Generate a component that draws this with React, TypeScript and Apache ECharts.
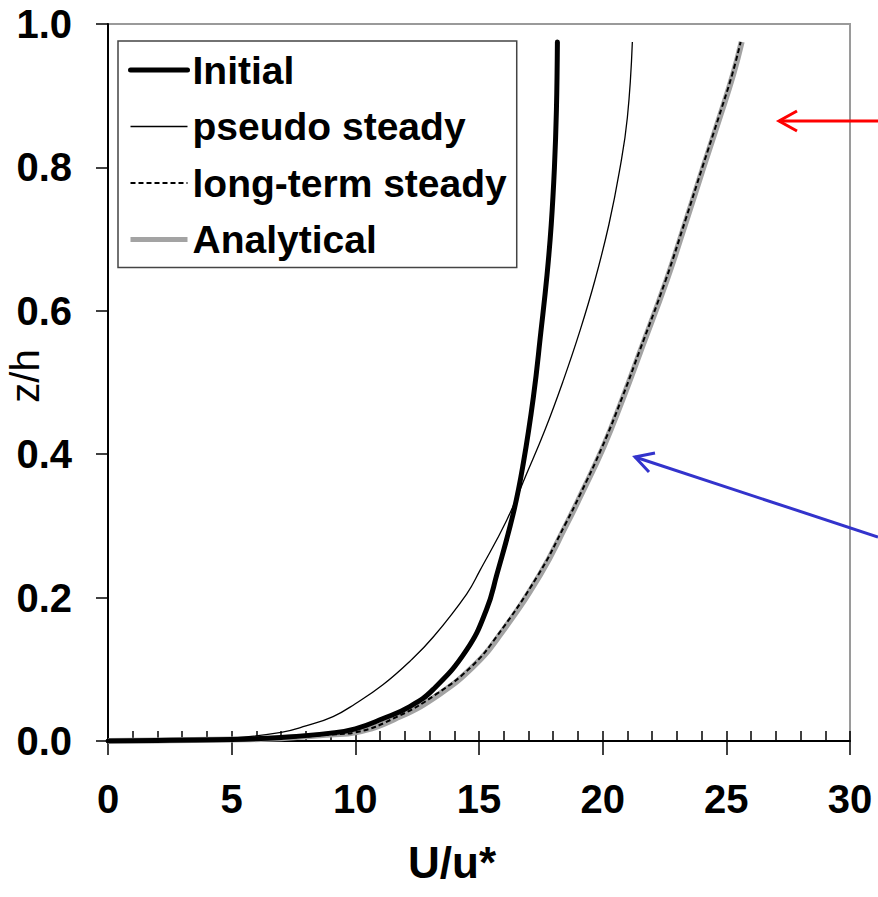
import React, { useEffect, useRef } from "react";
import * as echarts from "echarts";

// Values (U/u* on x, z/h on y)
const initialU = [0, 2.5, 5, 7, 9, 10, 11.1, 12.2, 13.15, 14.5, 15.3, 15.72, 16.39, 16.79, 17.2, 17.5, 17.75, 17.92, 18.05, 18.13, 18.17];
const initialZ = [0, 0.001, 0.002, 0.005, 0.011, 0.017, 0.031, 0.048, 0.072, 0.127, 0.183, 0.232, 0.318, 0.387, 0.48, 0.57, 0.65, 0.72, 0.8, 0.88, 0.975];

const pseudoU = [0, 2.5, 5, 7, 8, 9.1, 10, 11.1, 12.2, 13.15, 14.5, 15.04, 16.12, 16.93, 17.67, 18.41, 19.09, 19.69, 20.25, 20.68, 21.0, 21.2];
const pseudoZ = [0, 0.001, 0.004, 0.012, 0.021, 0.034, 0.052, 0.078, 0.111, 0.145, 0.205, 0.238, 0.308, 0.373, 0.434, 0.503, 0.573, 0.643, 0.72, 0.795, 0.87, 0.975];

const longTermU = [0, 2.5, 5, 7, 9, 10, 11.7, 13.3, 14.7, 15.7, 17.4, 18.5, 19.05, 19.98, 20.8, 21.47, 22.55, 23.36, 24.03, 24.71, 25.24, 25.58];
const longTermZ = [0, 0.001, 0.002, 0.004, 0.009, 0.012, 0.034, 0.066, 0.104, 0.145, 0.232, 0.303, 0.341, 0.41, 0.48, 0.542, 0.643, 0.728, 0.8, 0.872, 0.93, 0.975];

const analyticalU = [0, 2.5, 5, 7, 9, 10, 11.8, 13.42, 14.77, 15.78, 17.47, 18.55, 19.09, 20.03, 20.84, 21.51, 22.59, 23.4, 24.07, 24.75, 25.28, 25.62];
const analyticalZ = [0, 0.001, 0.002, 0.004, 0.009, 0.012, 0.034, 0.066, 0.104, 0.145, 0.232, 0.303, 0.341, 0.41, 0.48, 0.542, 0.643, 0.728, 0.8, 0.872, 0.93, 0.975];

const seriesNames = ["Initial", "pseudo steady", "long-term steady", "Analytical"];
const xTitle = "U/u*";
const yTitle = "z/h";

const zip = (xs: number[], ys: number[]) => xs.map((x, i) => [x, ys[i]]);

const FONT = "'Liberation Sans', Arial, sans-serif";

const STYLE_INITIAL = { color: "#000", width: 5, cap: "round" };
const STYLE_PSEUDO = { color: "#000", width: 1.3 };
const STYLE_LONG = { color: "#000", width: 2, type: [5, 3] };
const STYLE_ANALYTICAL = { color: "#a3a3a3", width: 6 };

export default function App() {
  const ref = useRef<HTMLDivElement>(null);
  useEffect(() => {
    if (!ref.current) return;
    const chart = echarts.init(ref.current, undefined, { renderer: "svg" });
    const gridRect = { left: 108, top: 24, right: 28, bottom: 156 };
    const lineSeries = (name: string, xs: number[], ys: number[], lineStyle: any, z: number) => ({
      name,
      type: "line",
      data: zip(xs, ys),
      showSymbol: false,
      symbol: "none",
      smooth: 0.45,
      lineStyle,
      itemStyle: { color: lineStyle.color },
      z,
    });
    chart.setOption({
      animation: false,
      backgroundColor: "#ffffff",
      textStyle: { fontFamily: FONT },
      grid: [
        { ...gridRect, show: true, borderColor: "#9a9a9a", borderWidth: 2, backgroundColor: "transparent" },
        { ...gridRect, show: false },
      ],
      xAxis: [
        {
          type: "value",
          gridIndex: 0,
          min: 0,
          max: 30,
          interval: 5,
          axisLine: { show: true, onZero: false, lineStyle: { color: "#000", width: 2 } },
          axisTick: { show: true, inside: true, length: 10, lineStyle: { color: "#000", width: 1.5 } },
          minorTick: { show: true, splitNumber: 5, length: 10, lineStyle: { color: "#000", width: 1.5 } },
          splitLine: { show: false },
          axisLabel: { fontSize: 40, fontWeight: "bold", color: "#000", margin: 38, fontFamily: FONT },
        },
        {
          type: "value",
          gridIndex: 1,
          min: 0,
          max: 30,
          interval: 5,
          axisLine: { show: false },
          axisTick: { show: true, inside: false, length: 14, lineStyle: { color: "#000", width: 1.5 } },
          splitLine: { show: false },
          axisLabel: { show: false },
        },
      ],
      yAxis: [
        {
          type: "value",
          gridIndex: 0,
          min: 0,
          max: 1,
          interval: 0.2,
          axisLine: { show: true, onZero: false, lineStyle: { color: "#000", width: 2 } },
          axisTick: { show: true, inside: false, length: 12, lineStyle: { color: "#000", width: 1.5 } },
          splitLine: { show: false },
          axisLabel: {
            fontSize: 40,
            fontWeight: "bold",
            color: "#000",
            margin: 36,
            fontFamily: FONT,
            formatter: (v: number) => v.toFixed(1),
          },
        },
        { type: "value", gridIndex: 1, min: 0, max: 1, show: false },
      ],
      legend: {
        orient: "vertical",
        left: 118,
        top: 41,
        padding: [9, 10, 8, 10],
        backgroundColor: "#ffffff",
        borderColor: "#444",
        borderWidth: 1.5,
        borderRadius: 0,
        itemWidth: 57,
        itemHeight: 14,
        itemGap: 16.5,
        itemStyle: { opacity: 0 },
        data: [
          { name: seriesNames[0], lineStyle: { width: 5, color: "#000" } },
          { name: seriesNames[1], lineStyle: { width: 1.3, color: "#000" } },
          { name: seriesNames[2], lineStyle: { width: 2, color: "#000", type: [5, 3] } },
          { name: seriesNames[3], lineStyle: { width: 5, color: "#a3a3a3" } },
        ],
        textStyle: { fontSize: 39, fontWeight: "bold", color: "#000", fontFamily: FONT, lineHeight: 40 },
      },
      series: [
        lineSeries(seriesNames[3], analyticalU, analyticalZ, STYLE_ANALYTICAL, 2),
        lineSeries(seriesNames[2], longTermU, longTermZ, STYLE_LONG, 3),
        lineSeries(seriesNames[1], pseudoU, pseudoZ, STYLE_PSEUDO, 4),
        lineSeries(seriesNames[0], initialU, initialZ, STYLE_INITIAL, 5),
      ],
      graphic: [
        {
          type: "text",
          x: 452,
          y: 862,
          style: {
            text: xTitle,
            fontSize: 44,
            fontWeight: "bold",
            fontFamily: FONT,
            fill: "#000",
            textAlign: "center",
            textVerticalAlign: "middle",
          },
        },
        {
          type: "text",
          x: 25,
          y: 376,
          rotation: Math.PI / 2,
          style: {
            text: yTitle,
            fontSize: 40,
            fontWeight: "normal",
            fontFamily: FONT,
            fill: "#000",
            textAlign: "center",
            textVerticalAlign: "middle",
          },
        },
        // red arrow
        { type: "line", shape: { x1: 878, y1: 121, x2: 779, y2: 121 }, style: { stroke: "#ff0000", lineWidth: 3 } },
        {
          type: "polyline",
          shape: { points: [[797, 111], [779, 121], [797, 131]] },
          style: { stroke: "#ff0000", lineWidth: 3, fill: null },
        },
        // blue arrow
        { type: "line", shape: { x1: 878, y1: 537, x2: 635, y2: 457 }, style: { stroke: "#3333cc", lineWidth: 3 } },
        {
          type: "polyline",
          shape: { points: [[655, 453], [635, 457], [649, 472]] },
          style: { stroke: "#3333cc", lineWidth: 3, fill: null },
        },
      ],
    });
    return () => chart.dispose();
  }, []);
  return <div ref={ref} style={{ position: "absolute", left: 0, top: 0, width: 878, height: 897 }} />;
}
